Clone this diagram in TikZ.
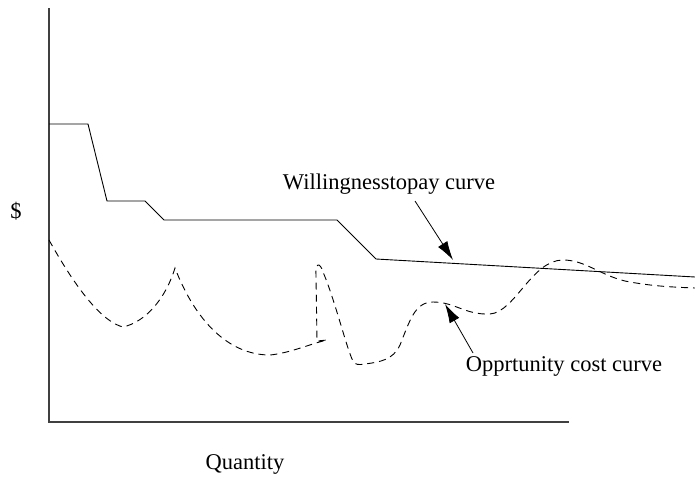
\documentclass[tikz,border=0pt]{standalone}
\usepackage{fontspec}
\setmainfont{Liberation Serif}
\usetikzlibrary{arrows.meta}
\begin{document}
\begin{tikzpicture}[x=1pt,y=-1pt,
  lbl/.style={font=\fontsize{22.5}{26}\selectfont, inner sep=0pt},
  axis/.style={line width=1.1pt, black!75},
  wtp/.style={line width=0.9pt},
  opp/.style={line width=0.9pt, dash pattern=on 7pt off 5pt},
  pointer/.style={line width=0.8pt, -{Latex[length=19pt,width=11pt]}}]
\useasboundingbox (0,0) rectangle (695,477);
% axes
\coordinate (ytop) at (49,8);
\coordinate (orig) at (49,422);
\coordinate (xend) at (569,422);
\draw[axis] (ytop) -- (orig) -- (xend);
% labels
\node[lbl] (dollar) at (16,211) {\$};
\node[lbl] (qty) at (245,464) {Quantity};
\node[lbl] (wtplbl) at (389,184) {Willingnesstopay curve};
\node[lbl] (opplbl) at (564,366) {Opprtunity cost curve};
% willingness-to-pay curve
\draw[wtp] (49,124) -- (88,124) -- (107,201) -- (145,201) -- (164,220)
  -- (337,220) -- (376,259) -- (695,277);
% opportunity cost curve
\draw[opp] (49,240) .. controls (78,292) and (103,322) .. (123,327)
  .. controls (145,322) and (165,300) .. (175,268)
  .. controls (195,320) and (228,355) .. (270,355)
  .. controls (290,353) and (310,344) .. (327,340)
  -- (317,341) -- (316,276)
  .. controls (315,262) and (320,262) .. (323,272)
  .. controls (335,300) and (347,350) .. (353,361)
  .. controls (355,365) and (359,365) .. (365,364)
  .. controls (380,362) and (393,360) .. (400,345)
  .. controls (410,320) and (415,302) .. (433,302)
  .. controls (455,302) and (465,315) .. (490,314)
  .. controls (515,312) and (532,260) .. (563,260)
  .. controls (585,260) and (600,275) .. (625,281)
  .. controls (650,286) and (670,287) .. (695,288);
% pointers
\coordinate (wtpfrom) at (415,201);
\coordinate (wtpto) at (453,260);
\coordinate (oppfrom) at (473,353);
\coordinate (oppto) at (445,304);
\draw[pointer] (wtpfrom) -- (wtpto);
\draw[pointer] (oppfrom) -- (oppto);
\end{tikzpicture}
\end{document}
